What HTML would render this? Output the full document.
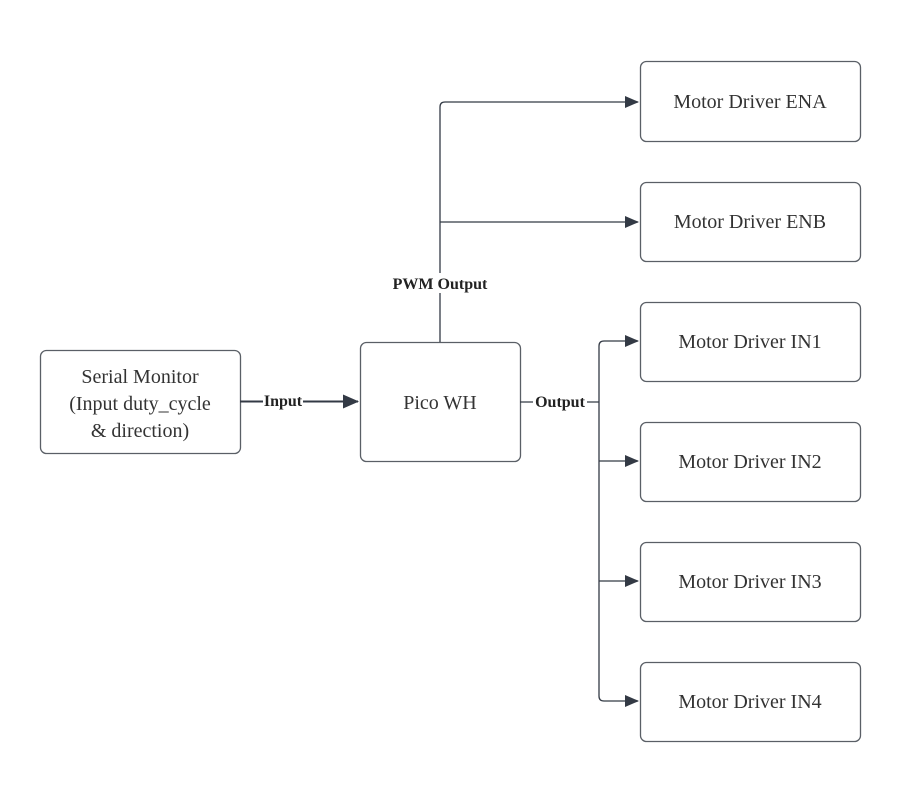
<!DOCTYPE html>
<html><head><meta charset="utf-8"><style>body{margin:0;background:#fff}</style></head>
<body>
<svg width="908" height="788" xmlns="http://www.w3.org/2000/svg" font-family="Liberation Serif, serif">
<defs><marker id="a" markerWidth="14" markerHeight="12" refX="13" refY="6" orient="auto" markerUnits="userSpaceOnUse"><path d="M0,0 L14,6 L0,12 z" fill="#333a45"/></marker>
<marker id="b" markerWidth="16" markerHeight="14" refX="15" refY="7" orient="auto" markerUnits="userSpaceOnUse"><path d="M0,0 L16,7 L0,14 z" fill="#333a45"/></marker></defs>
<g fill="#fff" stroke="#5a5f66" stroke-width="1.3">
<rect x="40.5" y="350.5" width="200" height="103" rx="6"/>
<rect x="360.5" y="342.5" width="160" height="119" rx="6"/>
<rect x="640.5" y="61.5" width="220" height="80" rx="6"/>
<rect x="640.5" y="182.5" width="220" height="79" rx="6"/>
<rect x="640.5" y="302.5" width="220" height="79" rx="6"/>
<rect x="640.5" y="422.5" width="220" height="79" rx="6"/>
<rect x="640.5" y="542.5" width="220" height="79" rx="6"/>
<rect x="640.5" y="662.5" width="220" height="79" rx="6"/>
</g>
<g fill="none" stroke="#333a45" stroke-width="1.3">
<path d="M440,342 V107 Q440,102 445,102 H638" marker-end="url(#a)"/>
<path d="M440,222 H638" marker-end="url(#a)"/>
<path d="M240,401.5 H358" stroke-width="2" marker-end="url(#b)"/>
<path d="M520,402 H599"/>
<path d="M599,346 V696 Q599,701 604,701 H638" marker-end="url(#a)"/>
<path d="M599,346 Q599,341 604,341 H638" marker-end="url(#a)"/>
<path d="M599,461 H638" marker-end="url(#a)"/>
<path d="M599,581 H638" marker-end="url(#a)"/>
</g>
<g font-size="16" font-weight="bold" fill="#222" text-anchor="middle">
<rect x="263" y="392" width="40" height="17" fill="#fff"/><text x="283" y="406">Input</text>
<rect x="533" y="393" width="54" height="17" fill="#fff"/><text x="560" y="407">Output</text>
<rect x="387" y="273" width="106" height="20" fill="#fff"/><text x="440" y="289">PWM Output</text>
</g>
<g font-size="20" fill="#333" text-anchor="middle">
<text x="140" y="383">Serial Monitor</text>
<text x="140" y="410">(Input duty_cycle</text>
<text x="140" y="437">&amp; direction)</text>
<text x="440" y="409">Pico WH</text>
<text x="750" y="108">Motor Driver ENA</text>
<text x="750" y="228">Motor Driver ENB</text>
<text x="750" y="348">Motor Driver IN1</text>
<text x="750" y="468">Motor Driver IN2</text>
<text x="750" y="588">Motor Driver IN3</text>
<text x="750" y="708">Motor Driver IN4</text>
</g>
</svg>
</body></html>
